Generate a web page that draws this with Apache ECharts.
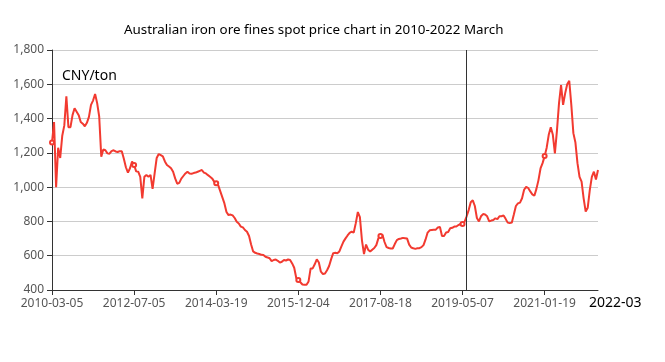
<!DOCTYPE html>
<html>
<head>
<meta charset="utf-8">
<script src="https://cdn.jsdelivr.net/npm/echarts@6/dist/echarts.min.js"></script>
<style>
html,body{margin:0;padding:0;background:#fff;}
#chart{width:665px;height:362px;}
</style>
</head>
<body>
<div id="chart"></div>
<script>
// Anchor dates shown as tick labels, with their category index
const tickLabels = ['2010-03-05','2012-07-05','2014-03-19','2015-12-04','2017-08-18','2019-05-07','2021-01-19','2022-03-04'];
const tickIndex  = [0, 40, 80, 120, 160, 200, 240, 266];
const titleText = 'Australian iron ore fines spot price chart in 2010-2022 March';
const unitText = 'CNY/ton';
const endText = '2022-03';
const markedIndex = 202;

// CNY/ton
const prices = [
 1260,1380,1000,1230,1170,1300,1360,1530,1350,1350,
 1420,1460,1440,1420,1380,1370,1355,1375,1410,1480,
 1505,1543,1490,1411,1178,1220,1215,1197,1195,1210,
 1215,1208,1205,1210,1210,1165,1116,1085,1110,1150,
 1129,1092,1090,1060,935,1060,1071,1061,1071,990,
 1080,1170,1193,1187,1180,1150,1129,1120,1110,1090,
 1051,1020,1025,1050,1065,1080,1090,1080,1078,1082,
 1085,1090,1095,1100,1085,1080,1070,1061,1051,1032,
 1022,1010,975,940,905,855,837,840,835,820,
 798,788,770,765,750,740,715,665,625,617,
 613,610,605,604,594,590,585,568,575,578,
 570,560,565,575,572,578,575,555,530,470,
 458,445,432,430,430,450,526,526,550,579,
 560,507,493,496,515,540,580,615,617,614,
 625,655,682,701,718,733,740,735,790,855,
 825,690,610,665,635,624,635,645,662,701,
 715,722,680,650,645,642,642,668,691,698,
 700,704,702,700,665,648,643,640,643,644,
 650,662,695,735,748,750,752,752,765,768,
 715,715,735,738,760,763,770,770,779,785,
 785,798,830,866,912,923,890,820,800,830,
 843,840,830,800,805,808,818,813,830,830,
 835,815,793,790,793,840,890,905,910,935,
 985,1002,995,975,958,950,990,1041,1109,1140,
 1181,1230,1305,1350,1305,1197,1330,1489,1595,1480,
 1547,1600,1620,1480,1315,1260,1140,1060,1032,935,
 857,880,983,1060,1090,1045,1100
];

// Category dates: anchor labels, with the in-between dates spread evenly
function pad(n){return (n<10?'0':'')+n;}
function fmt(d){return d.getUTCFullYear()+'-'+pad(d.getUTCMonth()+1)+'-'+pad(d.getUTCDate());}
const categories = [];
for (let s = 0; s < tickIndex.length - 1; s++) {
  const t0 = Date.parse(tickLabels[s] + 'T00:00:00Z');
  const t1 = Date.parse(tickLabels[s+1] + 'T00:00:00Z');
  const n = tickIndex[s+1] - tickIndex[s];
  for (let k = 0; k < n; k++) {
    if (k === 0) { categories.push(tickLabels[s]); continue; }
    const day = 86400000;
    const t = t0 + Math.round((t1 - t0) * k / n / day) * day;
    categories.push(fmt(new Date(t)));
  }
}
categories.push(tickLabels[tickLabels.length - 1]);

const font = "'Noto Sans', 'Microsoft YaHei', sans-serif";
const chart = echarts.init(document.getElementById('chart'));
chart.setOption({
  animation: false,
  backgroundColor: '#fff',
  title: {
    text: titleText,
    left: 124, top: 24,
    padding: 0,
    textStyle: {fontSize: 13.4, fontWeight: 'normal', color: '#000', fontFamily: font}
  },
  grid: {left: 52, right: 67, top: 50, bottom: 72},
  xAxis: {
    type: 'category',
    data: categories,
    boundaryGap: false,
    axisLine: {lineStyle: {color: '#333'}},
    axisTick: {show: true, interval: 39, lineStyle: {color: '#333'}},
    axisLabel: {interval: 39, color: '#555', fontSize: 12, fontFamily: font, margin: 8},
    splitLine: {show: false}
  },
  yAxis: {
    type: 'value',
    min: 400, max: 1800, interval: 200,
    axisLine: {show: true, lineStyle: {color: '#333'}},
    axisTick: {show: true, lineStyle: {color: '#333'}},
    axisLabel: {color: '#555', fontSize: 12, fontFamily: font},
    splitLine: {lineStyle: {color: '#ccc'}}
  },
  graphic: [
    {type: 'text', left: 62, top: 69, style: {text: unitText, font: "14px 'Noto Sans', sans-serif", fill: '#000'}},
    {type: 'text', left: 589, top: 296, style: {text: endText, font: "14px 'Noto Sans', sans-serif", fill: '#000'}}
  ],
  series: [{
    type: 'line',
    data: prices,
    symbol: 'emptyCircle',
    symbolSize: 4,
    showAllSymbol: 'auto',
    lineStyle: {color: '#f23a30', width: 2},
    itemStyle: {color: '#f23a30'},
    markLine: {
      silent: true,
      symbol: ['none','none'],
      label: {show: false},
      lineStyle: {color: '#333', width: 1, type: 'solid'},
      data: [{xAxis: categories[markedIndex]}]
    }
  }]
});
</script>
</body>
</html>
